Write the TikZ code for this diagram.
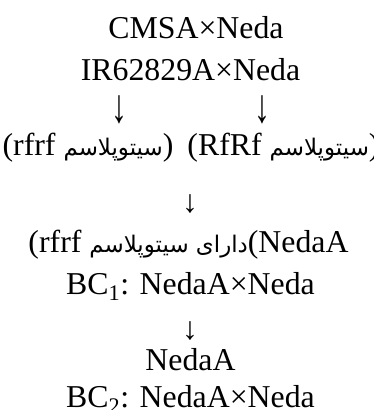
\documentclass[tikz,border=0pt]{standalone}
\usepackage{fontspec}
\setmainfont{Liberation Serif}
\newfontfamily\persianfont[Script=Arabic,Scale=0.72]{DejaVu Sans}
\TeXXeTstate=1
\usetikzlibrary{positioning}
\newcommand{\fa}[1]{{\persianfont\beginR #1\endR}}
\newcommand{\longdownarrow}{\scalebox{1}[1.5]{↓}}

\begin{document}
\begin{tikzpicture}[x=1pt,y=-1pt,
  txt/.style={inner sep=0pt,anchor=base,font=\fontsize{31.8}{36}\selectfont},
  down/.style={txt}
]
  \useasboundingbox (0,0) rectangle (374,410);
  \node[txt](cross1) at (196,38)    {CMSA×Neda};
  \node[txt](cross2) at (190.5,80)  {IR62829A×Neda};
  \node[down](dl)    at (119,122.5) {\longdownarrow};
  \node[down](dr)    at (262,122.5) {\longdownarrow};
  \node[txt](cyto1)  at (88,155)    {(rfrf \fa{سیتوپلاسم})};
  \node[txt](cyto2)  at (283.5,155) {(RfRf \fa{سیتوپلاسم})};
  \node[down](d2)    at (190,212)   {↓};
  \node[txt](neda1)  at (188.5,252) {(rfrf \fa{دارای سیتوپلاسم}(NedaA};
  \node[txt](bc1)    at (190.5,294) {BC\textsubscript{1}: NedaA×Neda};
  \node[down](d3)    at (190,339)   {↓};
  \node[txt](neda2)  at (190.5,370) {NedaA};
  \node[txt](bc2)    at (190.5,407) {BC\textsubscript{2}: NedaA×Neda};
\end{tikzpicture}
\end{document}
